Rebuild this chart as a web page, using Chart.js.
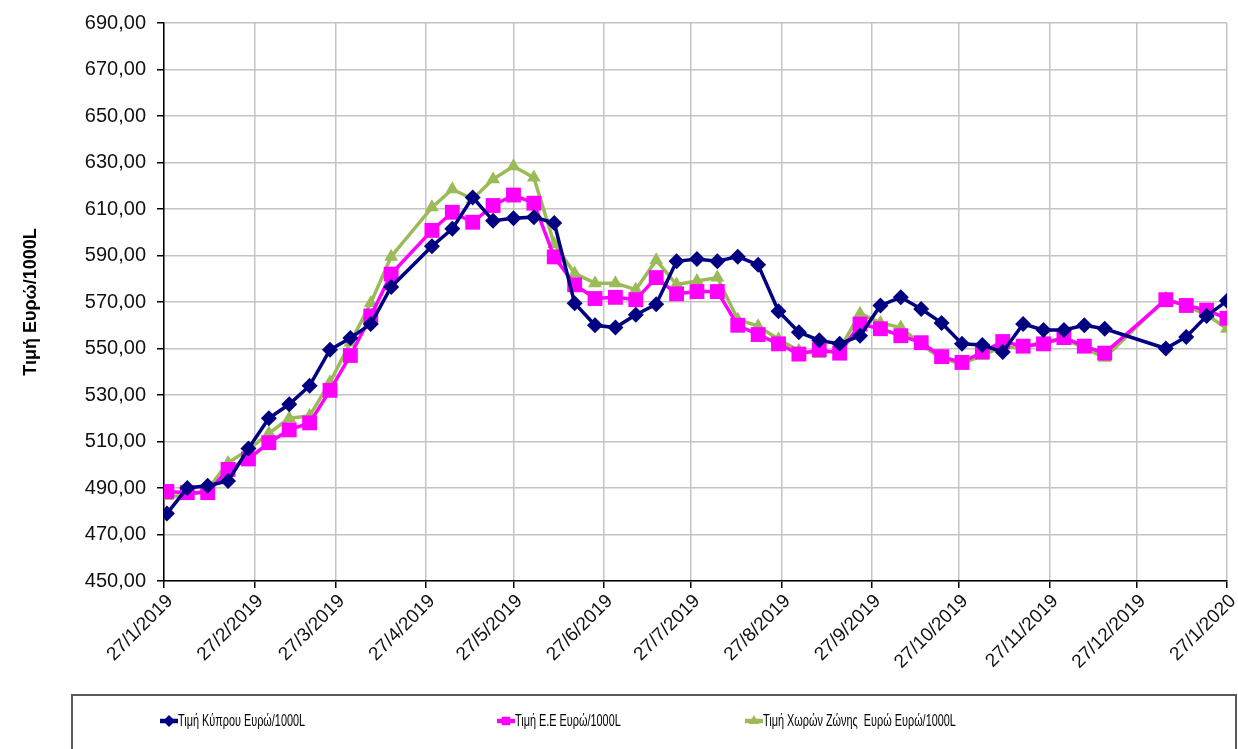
<!DOCTYPE html>
<html>
<head>
<meta charset="utf-8">
<script src="https://cdn.jsdelivr.net/npm/chart.js@4.4.1/dist/chart.umd.min.js"></script>
<style>
  body { margin: 0; background: #fff; }
  #wrap { width: 1238px; height: 749px; position: relative; }
</style>
</head>
<body>
<div id="wrap"><canvas id="priceChart" width="1238" height="749"></canvas></div>
<script>
// weekly readings (Mondays), 22/4, 23/12 and 30/12 have no value
const weekDates = [
    '28/1/2019', '4/2/2019', '11/2/2019', '18/2/2019', '25/2/2019',
    '4/3/2019', '11/3/2019', '18/3/2019', '25/3/2019',
    '1/4/2019', '8/4/2019', '15/4/2019', '29/4/2019',
    '6/5/2019', '13/5/2019', '20/5/2019', '27/5/2019',
    '3/6/2019', '10/6/2019', '17/6/2019', '24/6/2019',
    '1/7/2019', '8/7/2019', '15/7/2019', '22/7/2019', '29/7/2019',
    '5/8/2019', '12/8/2019', '19/8/2019', '26/8/2019',
    '2/9/2019', '9/9/2019', '16/9/2019', '23/9/2019', '30/9/2019',
    '7/10/2019', '14/10/2019', '21/10/2019', '28/10/2019',
    '4/11/2019', '11/11/2019', '18/11/2019', '25/11/2019',
    '2/12/2019', '9/12/2019', '16/12/2019',
    '6/1/2020', '13/1/2020', '20/1/2020', '27/1/2020'
];

const cyprusPrice = [
    479, 490, 491, 493, 507,
    520, 526, 534, 549.5,
    554.5, 560.5, 576.5, 594,
    601.5, 615, 605, 606,
    606.5, 604, 569.5, 560,
    559, 564.5, 569, 587.5, 588.5,
    587.5, 589.5, 586, 566,
    557, 553.5, 552, 555.5, 568.5,
    572, 567, 561, 552,
    551.5, 548.5, 560.5, 558,
    558, 560, 558.5,
    550, 555, 564, 570.5
];

const euPrice = [
    488.5, 488, 488, 498, 502.5,
    509.5, 515, 518, 532,
    547, 564, 582, 600.8,
    608.6, 604.3, 611.5, 616,
    612.5, 589.4, 577.4, 571.5,
    572, 571, 580.5, 573.5, 574.5,
    574.5, 560, 556, 552,
    547.6, 549.5, 548, 560.5, 558.5,
    555.5, 552.5, 546.5, 544,
    548.5, 553, 551, 552,
    554.7, 551, 548,
    571, 568.5, 566.5, 563
];

const euroZonePrice = [
    486.6, 486.6, 489.4, 500.8, 506.5,
    513.5, 520, 521, 535.5,
    552.6, 569.6, 589.5, 610.7,
    618.5, 614.3, 622.8, 628.4,
    623.5, 595, 582.3, 578.1,
    578.1, 575.3, 588, 577.5, 579,
    580.5, 562.5, 559.6, 554,
    549, 547.6, 549.7, 565, 561,
    559, 551.8, 545.5, 543.5,
    546.9, 551, 550, 553.3,
    554, 550.4, 546,
    571.5, 568.2, 564.6, 558.5
];

const tickDates = [
    '27/1/2019', '27/2/2019', '27/3/2019', '27/4/2019', '27/5/2019', '27/6/2019', '27/7/2019',
    '27/8/2019', '27/9/2019', '27/10/2019', '27/11/2019', '27/12/2019', '27/1/2020'
];

const seriesNames = ['Τιμή Κύπρου Ευρώ/1000L', 'Τιμή Ε.Ε Ευρώ/1000L', 'Τιμή Χωρών Ζώνης  Ευρώ Ευρώ/1000L'];

// day offset from the first tick, so the x axis behaves like a date axis
function dayOf(str) {
    const [d, m, y] = str.split('/').map(Number);
    return (Date.UTC(y, m - 1, d) - Date.UTC(2019, 0, 27)) / 86400000;
}
const xDays = weekDates.map(dayOf);
const tickDays = tickDates.map(dayOf);
const toPoints = vals => vals.map((v, i) => ({ x: xDays[i], y: v }));

const styles = [
    { color: '#000080', point: 'rectRot', radius: 8 },
    { color: '#FF00FF', point: 'rect', radius: 10.5 },
    { color: '#9BBB59', point: 'triangle', radius: 8 }
];
const legendX = [160, 497, 745];

function marker(ctx, style, x, y, r) {
    ctx.fillStyle = style.color;
    ctx.beginPath();
    if (style.point === 'rectRot') {
        ctx.moveTo(x, y - r); ctx.lineTo(x + r, y); ctx.lineTo(x, y + r); ctx.lineTo(x - r, y);
    } else if (style.point === 'rect') {
        const s = r * Math.SQRT1_2;
        ctx.rect(x - s, y - s, 2 * s, 2 * s);
    } else {
        ctx.moveTo(x, y - r); ctx.lineTo(x + r * 0.87, y + r * 0.5); ctx.lineTo(x - r * 0.87, y + r * 0.5);
    }
    ctx.closePath();
    ctx.fill();
}

const legendBox = {
    id: 'legendBox',
    afterDraw(chart) {
        const ctx = chart.ctx;
        ctx.save();
        ctx.strokeStyle = '#595959';
        ctx.lineWidth = 2;
        ctx.strokeRect(72, 695, 1164, 60);
        ctx.textBaseline = 'middle';
        chart.data.datasets.forEach((ds, i) => {
            const st = styles[i];
            const x = legendX[i], y = 721;
            ctx.strokeStyle = st.color;
            ctx.lineWidth = 4.5;
            ctx.beginPath(); ctx.moveTo(x, y); ctx.lineTo(x + 18, y); ctx.stroke();
            marker(ctx, st, x + 9, y, 6);
            // narrow face is not installed, squeeze the regular one instead
            ctx.save();
            ctx.translate(x + 18, y + 1);
            ctx.scale(0.68, 1);
            ctx.font = '16px "Liberation Sans Narrow", "Liberation Sans", Arial, sans-serif';
            ctx.fillStyle = '#000';
            ctx.fillText(ds.label, 0, 0);
            ctx.restore();
        });
        ctx.restore();
    }
};

const seriesData = [cyprusPrice, euPrice, euroZonePrice];

new Chart(document.getElementById('priceChart').getContext('2d'), {
    type: 'line',
    data: {
        datasets: seriesData.map((vals, i) => ({
            label: seriesNames[i],
            data: toPoints(vals),
            borderColor: styles[i].color,
            backgroundColor: styles[i].color,
            borderWidth: 3.5,
            pointStyle: styles[i].point,
            pointRadius: styles[i].radius,
            pointBorderWidth: 0,
            tension: 0
        }))
    },
    options: {
        responsive: false,
        animation: false,
        layout: { padding: { left: 0, right: 11, top: 17, bottom: 68 } },
        plugins: {
            legend: { display: false },
            tooltip: { enabled: false }
        },
        scales: {
            x: {
                type: 'linear',
                min: 0,
                max: 365,
                afterBuildTicks: scale => { scale.ticks = tickDays.map(v => ({ value: v })); },
                afterFit: scale => { scale.height = 100; scale.paddingRight = 0; },
                grid: { color: '#c4c4c4', lineWidth: 1.5, tickColor: '#000', tickLength: 7 },
                border: { color: '#000', width: 1.5 },
                ticks: {
                    autoSkip: false,
                    minRotation: 45,
                    maxRotation: 45,
                    padding: 2,
                    labelOffset: 6,
                    color: '#111',
                    font: { family: '"Liberation Sans", Arial, sans-serif', size: 19 },
                    callback: v => tickDates[tickDays.indexOf(v)] || ''
                }
            },
            y: {
                min: 450,
                max: 690,
                afterFit: scale => { scale.width = 164; },
                grid: { color: '#c4c4c4', lineWidth: 1.5, tickColor: '#000', tickLength: 7 },
                border: { color: '#000', width: 1.5 },
                ticks: {
                    stepSize: 20,
                    padding: 11,
                    color: '#111',
                    font: { family: '"Liberation Sans", Arial, sans-serif', size: 20 },
                    callback: v => v.toFixed(2).replace('.', ',')
                },
                title: {
                    display: true,
                    text: 'Τιμή Ευρώ/1000L',
                    color: '#000',
                    padding: { top: 20 },
                    font: { family: '"Liberation Sans", Arial, sans-serif', size: 18, weight: 'bold' }
                }
            }
        }
    },
    plugins: [legendBox]
});
</script>
</body>
</html>
